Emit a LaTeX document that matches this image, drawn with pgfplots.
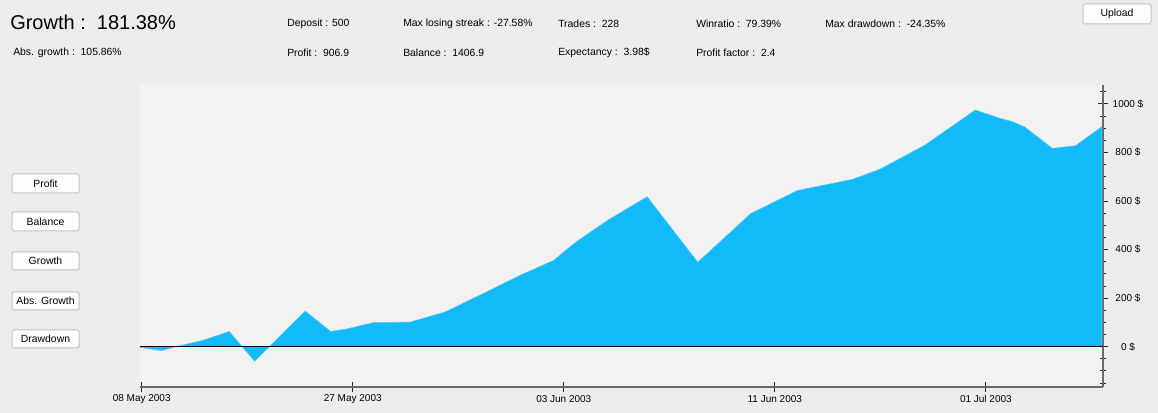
\documentclass[border=0pt]{standalone}
\usepackage{pgfplots}
\pgfplotsset{compat=1.18}
\usepackage{fontspec}
\setmainfont{Liberation Sans}

\definecolor{winbg}{HTML}{ECECEC}
\definecolor{plotbg}{HTML}{F2F2F2}
\definecolor{areablue}{RGB}{19,186,249}
\definecolor{axisgray}{HTML}{6A6A6A}
\definecolor{btnborder}{HTML}{C4C4C4}
\definecolor{btnfill}{HTML}{FDFDFD}

\newcommand{\uifont}{\fontsize{7.8}{9}\selectfont}

\begin{document}
\begin{tikzpicture}[x=0.75pt, y=-0.75pt]
% window background, 1158 x 413 px
\fill[winbg] (0,0) rectangle (1158,413);

% header
\node[anchor=west, inner sep=0, font=\fontsize{15}{18}\selectfont] at (10,22.5) {Growth :\ \ 181.38\%};
\node[anchor=west, inner sep=0, font=\uifont] at (13,53) {Abs. growth :\ \ 105.86\%};
\node[anchor=west, inner sep=0, font=\uifont] at (287,24) {Deposit : 500};
\node[anchor=west, inner sep=0, font=\uifont] at (287,53) {Profit :\ \ 906.9};
\node[anchor=west, inner sep=0, font=\uifont] at (403,24) {Max losing streak : -27.58\%};
\node[anchor=west, inner sep=0, font=\uifont] at (403,53) {Balance :\ \ 1406.9};
\node[anchor=west, inner sep=0, font=\uifont] at (558,24) {Trades :\ \ 228};
\node[anchor=west, inner sep=0, font=\uifont] at (558,53) {Expectancy :\ \ 3.98\$};
\node[anchor=west, inner sep=0, font=\uifont] at (696,24) {Winratio :\ \ 79.39\%};
\node[anchor=west, inner sep=0, font=\uifont] at (696,53) {Profit factor :\ \ 2.4};
\node[anchor=west, inner sep=0, font=\uifont] at (825,24) {Max drawdown :\ \ -24.35\%};

% buttons
\tikzset{btn/.style={draw=btnborder, fill=btnfill, rounded corners=1.2pt, line width=0.75pt}}
\draw[btn] (1083,4) rectangle (1151,24);
\node[font=\uifont] at (1117,14) {Upload};
\draw[btn] (12,174) rectangle (79,193);
\node[font=\uifont] at (45.5,183.5) {Profit};
\draw[btn] (12,212) rectangle (79,231);
\node[font=\uifont] at (45.5,221.5) {Balance};
\draw[btn] (12,252) rectangle (79,270);
\node[font=\uifont] at (45.5,261) {Growth};
\draw[btn] (12,292) rectangle (79,310);
\node[font=\uifont] at (45.5,301) {Abs. Growth};
\draw[btn] (12,330) rectangle (79,348);
\node[font=\uifont] at (45.5,339) {Drawdown};

\begin{axis}[
  at={(105pt,-290.25pt)}, anchor=south west,
  scale only axis, width=722.25pt, height=226.5pt,
  axis background/.style={fill=plotbg},
  axis x line=bottom, axis y line=right,
  axis line style={-, draw=axisgray, line width=1.5pt},
  xmin=-0.16, xmax=91.1, ymin=-166, ymax=1078,
  xtick={0,20,40,60,80},
  xticklabels={08 May 2003, 27 May 2003, 03 Jun 2003, 11 Jun 2003, 01 Jul 2003},
  ytick={0,200,...,1000},
  yticklabels={0 \$, 200 \$, 400 \$, 600 \$, 800 \$, 1000 \$},
  minor ytick={-150,-100,-50,50,100,150,250,300,350,450,500,550,650,700,750,850,900,950,1050},
  tick align=center,
  major tick length=7.5pt, minor tick length=4pt,
  tick style={black!85, line width=0.75pt},
  ticklabel style={font=\fontsize{7.5}{9}\selectfont},
  xticklabel style={anchor=center, yshift=-5pt},
  yticklabel style={anchor=center, xshift=15pt},
  clip=false,
]
\addplot[fill=areablue, draw=areablue!70!white, line width=0.4pt] coordinates {
  (-0.15,-3) (1.9,-16) (3.2,0) (5.7,25) (8.3,63) (10.7,-60)
  (15.5,147) (17.9,63) (19.4,73) (22.0,100) (25.4,101) (28.8,144)
  (32.4,220) (35.9,295) (39.0,355) (41.2,433) (44.2,522) (47.9,618)
  (52.7,348) (57.7,548) (62.1,643) (67.4,690) (70.0,732) (74.2,830)
  (79.0,975) (81.4,940) (82.6,926) (83.7,905) (86.3,817) (88.5,828)
  (91.0,907)
} \closedcycle;
\draw[black, line width=1.1pt] (axis cs:-0.16,0) -- (axis cs:91.1,0);
\end{axis}
\end{tikzpicture}
\end{document}
